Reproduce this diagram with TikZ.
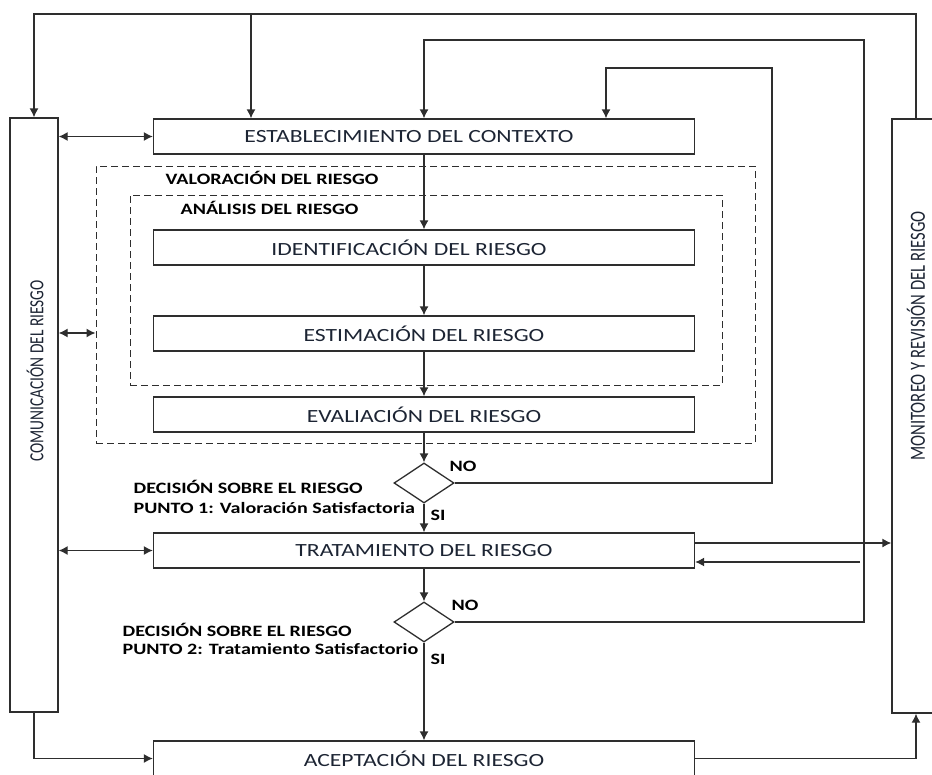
\documentclass[tikz,border=0pt]{standalone}
\usepackage{fontspec}
\setmainfont{Carlito}[FakeStretch=1.27]
\newfontfamily\plainfont{Carlito}
\usetikzlibrary{shapes.geometric,arrows.meta}
\definecolor{boxtext}{HTML}{1C2433}
\definecolor{linecol}{HTML}{2E2E2E}

\begin{document}
\begin{tikzpicture}[x=1pt,y=-1pt,line width=1.3pt,
    arr/.style={linecol,-{Latex[length=9pt,width=9pt]}},
    dbl/.style={linecol,{Latex[length=9pt,width=9pt]}-{Latex[length=9pt,width=9pt]}},
    stage/.style={draw=linecol,minimum width=541pt,minimum height=35pt,inner sep=0pt,
      text=boxtext,font=\fontsize{18.6}{20}\selectfont},
    side/.style={draw=linecol,minimum width=48pt,minimum height=594pt},
    zone/.style={draw=linecol,line width=1pt,dash pattern=on 7pt off 4pt},
    choice/.style={draw=linecol,diamond,minimum width=60pt,minimum height=40pt,inner sep=0pt},
    tag/.style={inner sep=0pt,font=\bfseries\fontsize{15.8}{20}\selectfont}]
  \useasboundingbox (0,0) rectangle (932,774);

  % side boxes
  \node[side] (comm) at (34,415) {};
  \node[side] (monit) at (916,416) {};
  \node[rotate=90,text=boxtext] (commtxt) at (35,371)
    {\scalebox{1}[1.3]{\plainfont\fontsize{15.4}{18}\selectfont COMUNICACIÓN DEL RIESGO}};
  \node[rotate=90,text=boxtext] (monittxt) at (916,336)
    {\scalebox{1}[1.3]{\plainfont\fontsize{16.6}{18}\selectfont MONITOREO Y REVISIÓN DEL RIESGO}};

  % dashed groups
  \node[zone,minimum width=659pt,minimum height=277pt] (valor) at (425.5,304.5) {};
  \node[zone,minimum width=592pt,minimum height=190pt] (anal) at (426,290) {};
  \node[tag,anchor=west] (valtxt) at (165,178) {VALORACIÓN DEL RIESGO};
  \node[tag,anchor=west] (antxt) at (180,208) {ANÁLISIS DEL RIESGO};

  % process boxes
  \node[stage] (ctx) at (424,136.5) {\hspace*{-30pt}ESTABLECIMIENTO DEL CONTEXTO};
  \node[stage] (ident) at (424,247.5) {\hspace*{-30pt}IDENTIFICACIÓN DEL RIESGO};
  \node[stage] (estim) at (424,333.5) {ESTIMACIÓN DEL RIESGO};
  \node[stage] (evalu) at (424,414.5) {EVALIACIÓN DEL RIESGO};
  \node[stage] (trat) at (424,550.5) {TRATAMIENTO DEL RIESGO};
  \node[stage] (acep) at (424,758.5) {ACEPTACIÓN DEL RIESGO};

  % decisions
  \node[choice] (d1) at (424,483) {};
  \node[choice] (d2) at (424,622) {};
  \node[tag,anchor=west,align=left] (pt1) at (133,497)
    {DECISIÓN SOBRE EL RIESGO\\PUNTO 1: Valoración Satisfactoria};
  \node[tag,anchor=west,align=left,font=\bfseries\fontsize{15.8}{18}\selectfont] (pt2) at (122,639)
    {DECISIÓN SOBRE EL RIESGO\\PUNTO 2: Tratamiento Satisfactorio};
  \node[tag] (no1) at (463,466) {NO};
  \node[tag] (si1) at (438,515) {SI};
  \node[tag] (no2) at (465,605) {NO};
  \node[tag] (si2) at (438,659) {SI};

  % main flow
  \draw[arr] (ctx.south) -- (ident.north);
  \draw[arr] (ident.south) -- (estim.north);
  \draw[arr] (estim.south) -- (evalu.north);
  \draw[arr] (evalu.south) -- (d1.north);
  \draw[arr] (d1.south) -- (trat.north);
  \draw[arr] (trat.south) -- (d2.north);
  \draw[arr] (d2.south) -- (acep.north);

  % feedback loops
  \coordinate (top) at (0,14);
  \coordinate (b1) at (251,14);
  \draw[arr] (monit.north) |- (comm.north |- top) -- (comm.north);
  \draw[arr] (b1) -- (b1 |- ctx.north);
  \draw[arr] (d2.east) -| (864,40) -| (ctx.north);
  \draw[arr] (d1.east) -| (772,68) -| ([xshift=182pt]ctx.north);
  \coordinate (fb) at (860,562);
  \draw[arr] (fb) -- (fb -| trat.east);
  \draw[arr] ([yshift=7.5pt]trat.east) -- ([yshift=7.5pt]trat.east -| monit.west);
  \draw[arr] (acep.east) -| (monit.south);
  \draw[arr] (comm.south) |- (acep.west);

  % communication links
  \draw[dbl] (ctx.west -| comm.east) -- (ctx.west);
  \draw[dbl] ([yshift=-28.5pt]valor.west -| comm.east) -- ([yshift=-28.5pt]valor.west);
  \draw[dbl] (trat.west -| comm.east) -- (trat.west);
\end{tikzpicture}
\end{document}
